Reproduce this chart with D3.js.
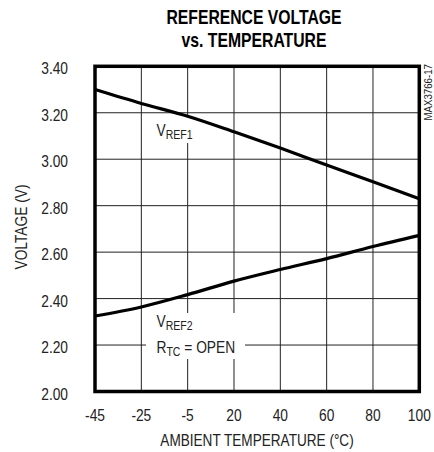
<!DOCTYPE html>
<html>
<head>
<meta charset="utf-8">
<script src="https://cdn.jsdelivr.net/npm/d3@7"></script>
<style>
  html, body { margin: 0; padding: 0; background: #fff; }
  svg { display: block; }
  text { font-family: "Liberation Sans", Arial, sans-serif; }
</style>
</head>
<body>
<svg id="chart" width="434" height="452"></svg>
<script>
const temperatures = ["-45", "-25", "-5", "20", "40", "60", "80", "100"];
const vref1 = [3.30, 3.24, 3.185, 3.118, 3.048, 2.975, 2.903, 2.83];
const vref2 = [2.325, 2.364, 2.417, 2.475, 2.525, 2.572, 2.624, 2.672];
const yTicks = [2.00, 2.20, 2.40, 2.60, 2.80, 3.00, 3.20, 3.40];

const svg = d3.select("#chart");
const L = 95, R = 419.3, T = 66.3, B = 391.5;
const SX = 0.81; // narrow-font emulation

const x = d3.scalePoint().domain(temperatures).range([L, R]);
const y = d3.scaleLinear().domain([2.0, 3.4]).range([B, T]);

function txt(px, py, s, o = {}) {
  const rot = o.rotate ? ` rotate(${o.rotate})` : "";
  return svg.append("text")
    .attr("transform", `translate(${px},${py})${rot} scale(${o.sx || SX},1)`)
    .attr("text-anchor", o.anchor || "start")
    .attr("font-size", o.size || 17)
    .attr("font-weight", o.weight || "normal")
    .attr("fill", o.fill || "#222")
    .text(s);
}

// title
txt(254, 24, "REFERENCE VOLTAGE", {anchor: "middle", size: 21, weight: "bold", fill: "#000", sx: 0.75});
txt(254, 47, "vs. TEMPERATURE", {anchor: "middle", size: 21, weight: "bold", fill: "#000", sx: 0.75});

// grid
const grid = svg.append("g").attr("stroke", "#222").attr("stroke-width", 1);
grid.selectAll("line.v").data(temperatures).join("line")
  .attr("x1", d => x(d)).attr("x2", d => x(d)).attr("y1", T).attr("y2", B);
grid.selectAll("line.h").data(yTicks).join("line")
  .attr("x1", L).attr("x2", R).attr("y1", d => y(d)).attr("y2", d => y(d));

// label backgrounds
svg.append("rect").attr("x", 152).attr("y", 116).attr("width", 44).attr("height", 27).attr("fill", "#fff");
svg.append("rect").attr("x", 146).attr("y", 313).attr("width", 99).attr("height", 46).attr("fill", "#fff");

// data lines
const line = d3.line().x((d, i) => x(temperatures[i])).y(d => y(d)).curve(d3.curveMonotoneX);
svg.append("path").datum(vref1).attr("d", line).attr("fill", "none").attr("stroke", "#000").attr("stroke-width", 3.2);
svg.append("path").datum(vref2).attr("d", line).attr("fill", "none").attr("stroke", "#000").attr("stroke-width", 3.2);

// frame
svg.append("rect").attr("x", L).attr("y", T).attr("width", R - L).attr("height", B - T)
  .attr("fill", "none").attr("stroke", "#000").attr("stroke-width", 3.5);

// y tick labels
yTicks.forEach(d => txt(68, y(d) + 8, d.toFixed(2), {anchor: "end"}));

// x tick labels
temperatures.forEach(d => txt(x(d), 421, d, {anchor: "middle"}));

// axis titles
txt(257, 446, "AMBIENT TEMPERATURE (°C)", {anchor: "middle", sx: 0.8});
txt(27, 227, "VOLTAGE (V)", {anchor: "middle", rotate: -90});

// series labels
function subLabel(xp, yp, main, sub, rest) {
  const t = txt(xp, yp, "", {});
  t.append("tspan").text(main);
  t.append("tspan").attr("font-size", 13).attr("dy", 3).text(sub);
  if (rest) t.append("tspan").attr("dy", -3).text(rest);
}
subLabel(156.5, 136, "V", "REF1");
subLabel(156.5, 327, "V", "REF2");
subLabel(156.5, 353, "R", "TC", " = OPEN");

// part number
txt(432, 64, "MAX3766-17", {anchor: "end", rotate: -90, size: 10, sx: 0.97});
</script>
</body>
</html>
